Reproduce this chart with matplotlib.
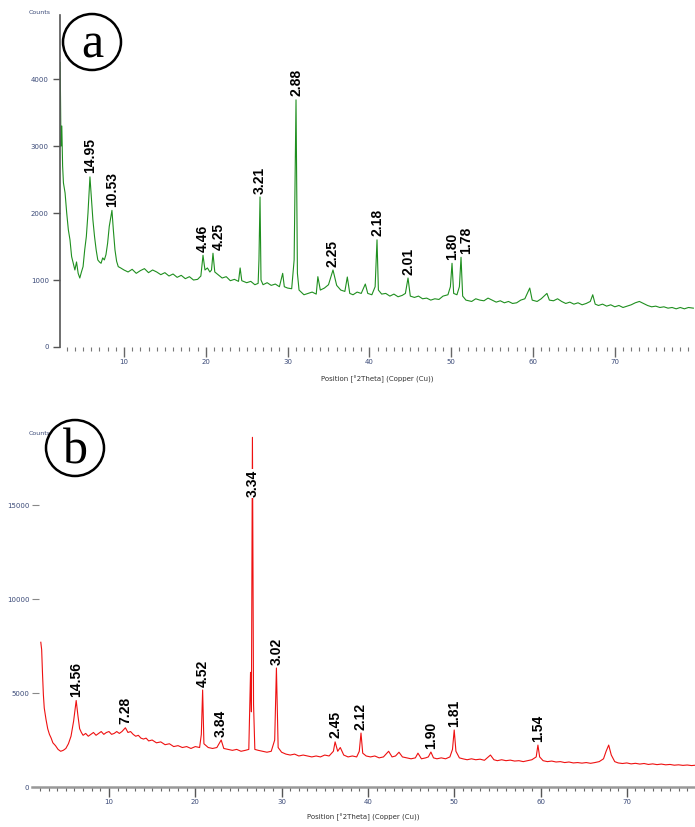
import numpy as np
import matplotlib
matplotlib.use("Agg")
import matplotlib.pyplot as plt
from matplotlib.patches import Ellipse

# ---------------- data : panel (a) ----------------
two_theta_a = [2.2, 2.3, 2.4, 2.5, 2.6, 2.8, 2.9, 3.0, 3.2, 3.4, 3.6, 3.8, 4.0, 4.2, 4.4, 4.6,
               4.8, 5.0, 5.2, 5.4, 5.6, 5.84, 6.0, 6.2, 6.4, 6.6, 6.8, 7.0, 7.2, 7.4, 7.6, 7.8,
               8.0, 8.2, 8.4, 8.53, 8.7, 8.9, 9.1, 9.3, 9.6, 10.0, 10.5, 11.0, 11.5, 12.0, 12.5,
               13.0, 13.5, 14.0, 14.5, 15.0, 15.5, 16.0, 16.5, 17.0, 17.5, 18.0, 18.5, 19.0,
               19.4, 19.66, 19.9, 20.2, 20.5, 20.7, 20.88, 21.1, 21.5, 22.0, 22.5, 23.0, 23.5,
               24.0, 24.2, 24.4, 25.0, 25.5, 26.0, 26.4, 26.5, 26.63, 26.75, 27.0, 27.5, 28.0,
               28.5, 29.0, 29.4, 29.6, 30.0, 30.5, 30.8, 31.03, 31.2, 31.4, 32.0, 32.5, 33.0,
               33.5, 33.7, 34.0, 34.5, 35.0, 35.55, 36.0, 36.5, 37.0, 37.3, 37.6, 38.0, 38.5,
               39.0, 39.5, 39.8, 40.3, 40.7, 40.93, 41.1, 41.5, 42.0, 42.5, 43.0, 43.5, 44.0,
               44.4, 44.72, 45.0, 45.5, 46.0, 46.5, 47.0, 47.5, 48.0, 48.5, 49.0, 49.6, 49.9,
               50.1, 50.3, 50.7, 51.0, 51.2, 51.4, 51.8, 52.5, 53.0, 53.5, 54.0, 54.5, 55.0,
               55.5, 56.0, 56.5, 57.0, 57.5, 58.0, 58.5, 59.0, 59.6, 59.9, 60.5, 61.0, 61.7,
               62.0, 62.5, 63.0, 63.5, 64.0, 64.5, 65.0, 65.5, 66.0, 66.5, 67.0, 67.3, 67.6,
               68.0, 68.5, 69.0, 69.5, 70.0, 70.5, 71.0, 71.5, 72.0, 72.5, 73.0, 73.5, 74.0,
               74.5, 75.0, 75.5, 76.0, 76.5, 77.0, 77.5, 78.0, 78.5, 79.0, 79.6]
counts_a = [4250, 3000, 3300, 2700, 2450, 2300, 2150, 2000, 1750, 1600, 1350, 1250, 1150, 1270,
            1100, 1030, 1120, 1200, 1450, 1650, 2000, 2540, 2250, 1900, 1650, 1450, 1300, 1270,
            1250, 1330, 1300, 1380, 1550, 1800, 1950, 2040, 1750, 1450, 1280, 1200, 1180, 1150,
            1120, 1160, 1100, 1140, 1170, 1110, 1150, 1120, 1080, 1110, 1060, 1090, 1040, 1070,
            1020, 1050, 1000, 1010, 1060, 1370, 1150, 1180, 1120, 1150, 1400, 1120, 1080, 1030,
            1050, 990, 1010, 980, 1180, 990, 960, 980, 930, 950, 1300, 2240, 1000, 930, 960,
            920, 940, 900, 1100, 900, 880, 870, 1300, 3690, 1100, 850, 780, 800, 820, 790,
            1050, 850, 880, 930, 1150, 920, 850, 830, 1045, 800, 780, 820, 800, 940, 800, 780,
            900, 1600, 850, 790, 800, 760, 790, 750, 770, 800, 1030, 760, 740, 760, 720, 730,
            700, 720, 710, 760, 780, 900, 1250, 800, 780, 900, 1340, 760, 700, 680, 720, 700,
            690, 730, 700, 670, 690, 660, 680, 650, 660, 700, 720, 880, 700, 680, 720, 800,
            700, 690, 720, 680, 650, 670, 640, 660, 630, 650, 680, 780, 640, 620, 640, 610,
            630, 600, 620, 590, 610, 630, 660, 680, 650, 620, 600, 610, 590, 600, 580, 590,
            570, 590, 570, 590, 580]
peaks_a = [5.84, 8.53, 19.66, 20.88, 26.63, 31.03, 35.55, 40.93, 44.72, 50.1, 51.2]
labels_a = ["14.95", "10.53", "4.46", "4.25", "3.21", "2.88", "2.25", "2.18", "2.01", "1.80", "1.78"]
yticks_a = [0, 1000, 2000, 3000, 4000]
yticklabels_a = ["0", "1000", "2000", "3000", "4000"]

# ---------------- data : panel (b) ----------------
two_theta_b = [2.1, 2.2, 2.3, 2.4, 2.5, 2.7, 2.9, 3.1, 3.3, 3.5, 3.8, 4.1, 4.4, 4.7, 5.0, 5.3,
               5.6, 5.9, 6.2, 6.4, 6.6, 6.8, 7.0, 7.3, 7.6, 7.9, 8.2, 8.5, 8.8, 9.1, 9.4, 9.7,
               10.0, 10.3, 10.6, 10.9, 11.2, 11.5, 11.9, 12.2, 12.5, 12.8, 13.1, 13.4, 13.7,
               14.0, 14.3, 14.6, 15.0, 15.5, 16.0, 16.5, 17.0, 17.5, 18.0, 18.5, 19.0, 19.5,
               20.0, 20.5, 20.7, 20.85, 21.0, 21.5, 22.0, 22.5, 23.0, 23.3, 23.8, 24.3, 24.8,
               25.3, 25.8, 26.2, 26.4, 26.5, 26.62, 26.75, 26.9, 27.3, 27.8, 28.3, 28.8, 29.2,
               29.4, 29.6, 30.0, 30.5, 31.0, 31.5, 32.0, 32.5, 33.0, 33.5, 34.0, 34.5, 35.0,
               35.5, 36.0, 36.2, 36.5, 36.8, 37.2, 37.7, 38.2, 38.7, 39.0, 39.2, 39.4, 39.8,
               40.3, 40.8, 41.3, 41.8, 42.4, 42.8, 43.2, 43.6, 44.0, 44.5, 45.0, 45.5, 45.8,
               46.2, 46.7, 47.0, 47.3, 47.6, 48.0, 48.5, 49.0, 49.5, 49.8, 50.0, 50.2, 50.6,
               51.0, 51.5, 52.0, 52.5, 53.0, 53.5, 54.2, 54.6, 55.0, 55.5, 56.0, 56.5, 57.0,
               57.5, 58.0, 58.5, 59.0, 59.5, 59.7, 59.9, 60.3, 60.8, 61.3, 61.8, 62.3, 62.8,
               63.3, 63.8, 64.3, 64.8, 65.3, 65.8, 66.3, 66.8, 67.3, 67.6, 67.9, 68.2, 68.6,
               69.0, 69.5, 70.0, 70.5, 71.0, 71.5, 72.0, 72.5, 73.0, 73.5, 74.0, 74.5, 75.0,
               75.5, 76.0, 76.5, 77.0, 77.5, 78.0]
counts_b = [7700, 7300, 6000, 4900, 4200, 3600, 3100, 2800, 2600, 2350, 2200, 2000, 1900, 1950,
            2050, 2300, 2700, 3500, 4600, 3800, 3100, 2900, 2750, 2850, 2700, 2800, 2900, 2750,
            2850, 2950, 2800, 2900, 2950, 2800, 2850, 2950, 2850, 2950, 3150, 2900, 2950, 2800,
            2700, 2750, 2600, 2550, 2600, 2450, 2500, 2350, 2400, 2250, 2300, 2150, 2200, 2100,
            2150, 2050, 2150, 2100, 2800, 5160, 2300, 2100, 2050, 2100, 2500, 2050, 2000, 1950,
            2000, 1900, 1950, 2000, 6100, 4000, 18600, 4400, 2000, 1950, 1900, 1850, 1900, 2500,
            6330, 2100, 1850, 1750, 1700, 1750, 1650, 1700, 1650, 1600, 1650, 1600, 1700, 1650,
            1900, 2400, 1900, 2100, 1700, 1600, 1650, 1600, 1900, 2870, 1800, 1650, 1600, 1650,
            1550, 1600, 1900, 1600, 1650, 1850, 1600, 1550, 1500, 1550, 1800, 1500, 1550, 1600,
            1860, 1550, 1500, 1550, 1500, 1600, 2000, 3030, 1900, 1550, 1500, 1450, 1500, 1450,
            1480, 1420, 1700, 1450, 1400, 1450, 1400, 1430, 1380, 1400, 1350, 1400, 1450, 1600,
            2230, 1600, 1400, 1350, 1380, 1330, 1350, 1300, 1330, 1280, 1300, 1270, 1300, 1260,
            1300, 1350, 1500, 1900, 2230, 1700, 1350, 1280, 1250, 1280, 1230, 1260, 1220, 1250,
            1200, 1230, 1190, 1220, 1180, 1200, 1160, 1180, 1150, 1170, 1140, 1160]
peaks_b = [6.2, 11.9, 20.85, 23.0, 26.62, 29.4, 36.2, 39.2, 47.3, 50.0, 59.7]
labels_b = ["14.56", "7.28", "4.52", "3.84", "3.34", "3.02", "2.45", "2.12", "1.90", "1.81", "1.54"]
yticks_b = [0, 5000, 10000, 15000]
yticklabels_b = ["0", "5000", "10000", "15000"]

xticks = [10, 20, 30, 40, 50, 60, 70]
xlabel = "Position [°2Theta] (Copper (Cu))"

W, H = 695, 827
fig = plt.figure(figsize=(W / 100, H / 100), dpi=100)
tick_color = "#3b4a78"
LABEL_FS = 10


def px_axes(x0, y_top, x1, y_bot):
    return [x0 / W, (H - y_bot) / H, (x1 - x0) / W, (y_bot - y_top) / H]


def label_peaks(ax, tt, cc, peaks, labels, ymax):
    tt = np.asarray(tt)
    cc = np.asarray(cc)
    prev = None
    for p, lab in zip(peaks, labels):
        h = cc[np.argmin(np.abs(tt - p))]
        dx = 0
        if prev is not None and abs(p - prev) < 1.5:
            dx = 4
        prev = p
        if h > 0.8 * ymax:
            ax.text(p, 0.85 * ymax, lab, rotation=90, ha="center", va="center",
                    fontsize=LABEL_FS, fontweight="bold", family="Liberation Sans",
                    bbox=dict(facecolor="white", edgecolor="none", pad=0.5), zorder=5)
        else:
            ax.annotate(lab, (p, h), xytext=(dx, 2.5), textcoords="offset points",
                        rotation=90, ha="center", va="bottom", fontsize=LABEL_FS,
                        fontweight="bold", family="Liberation Sans", zorder=5)


# ---------------- panel (a) ----------------
ax_a = fig.add_axes(px_axes(60, 15, 695, 347))
ax_a.plot(two_theta_a, counts_a, color="#1f8f1f", lw=0.8)
ax_a.set_xlim(2.18, 79.8)
ax_a.set_ylim(0, 4957)
for s in ["top", "right", "bottom"]:
    ax_a.spines[s].set_visible(False)
ax_a.spines["left"].set_color("#555555")
ax_a.spines["left"].set_linewidth(1.2)
ax_a.set_yticks(yticks_a)
ax_a.set_yticklabels(yticklabels_a)
ax_a.set_xticks(xticks)
ax_a.set_xticks(np.arange(3, 80, 1), minor=True)
ax_a.tick_params(axis="y", direction="out", length=5, width=1, color="#555555",
                 labelsize=5, labelcolor=tick_color, pad=3)
ax_a.tick_params(axis="x", which="major", direction="out", length=7, width=1,
                 color="#666666", labelsize=5, labelcolor=tick_color, pad=2)
ax_a.tick_params(axis="x", which="minor", direction="out", length=3, width=0.8,
                 color="#777777")
ax_a.set_xlabel(xlabel, fontsize=5, color="#333333", labelpad=7)
label_peaks(ax_a, two_theta_a, counts_a, peaks_a, labels_a, 4957)
fig.text(40 / W, 1 - 12 / H, "Counts", fontsize=4.5, color=tick_color, ha="center", va="center")

# ---------------- panel (b) ----------------
ax_b = fig.add_axes(px_axes(32, 430, 695, 787))
ax_b.plot(two_theta_b, counts_b, color="#ee1111", lw=0.8)
ax_b.set_xlim(1.08, 77.9)
ax_b.set_ylim(0, 18990)
for s in ["top", "right", "left"]:
    ax_b.spines[s].set_visible(False)
ax_b.spines["bottom"].set_color("#999999")
ax_b.spines["bottom"].set_linewidth(1.8)
ax_b.set_yticks(yticks_b)
ax_b.set_yticklabels(yticklabels_b)
ax_b.set_xticks(xticks)
ax_b.set_xticks(np.arange(2, 78, 1), minor=True)
ax_b.tick_params(axis="y", direction="in", length=5, width=0.8, color="#888888",
                 labelsize=5, labelcolor=tick_color, pad=2)
ax_b.tick_params(axis="x", which="major", direction="out", length=7, width=1,
                 color="#555555", labelsize=5, labelcolor=tick_color, pad=2)
ax_b.tick_params(axis="x", which="minor", direction="out", length=3, width=0.8,
                 color="#666666")
ax_b.set_xlabel(xlabel, fontsize=5, color="#333333", labelpad=6)
label_peaks(ax_b, two_theta_b, counts_b, peaks_b, labels_b, 18990)
fig.text(40 / W, 1 - 434 / H, "Counts", fontsize=4.5, color=tick_color, ha="center", va="center")

# ---------------- circled panel letters ----------------
for cx, cy, letter in [(92, 42, "a"), (75, 448, "b")]:
    e = Ellipse((cx / W, 1 - cy / H), 58 / W, 56 / H, transform=fig.transFigure,
                facecolor="white", edgecolor="black", lw=1.8, zorder=10)
    fig.add_artist(e)
    fig.text(cx / W, 1 - (cy + 3) / H, letter, fontsize=36, family="Liberation Serif",
             ha="center", va="center", zorder=11)

fig.savefig("out.png", dpi=100)
